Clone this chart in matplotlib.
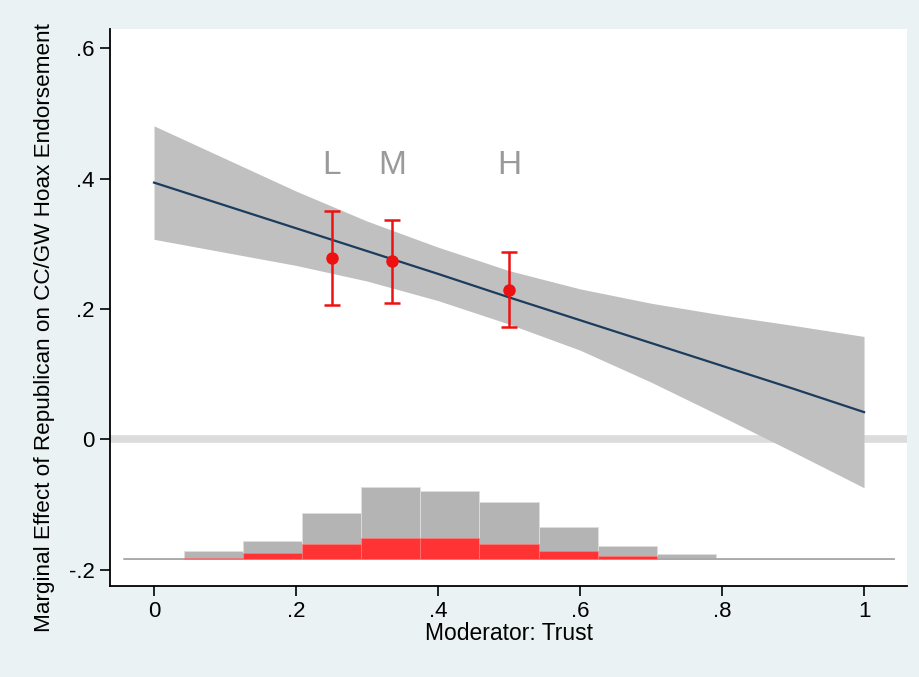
import matplotlib.pyplot as plt
import numpy as np

plt.rcParams['font.family'] = ['Liberation Sans', 'DejaVu Sans']

# marginal effect line and CI band
x_band = [0, .1, .2, .3, .4, .5, .6, .7, .8, .9, 1]
me_line = [.394, .359, .324, .289, .254, .218, .183, .148, .113, .078, .042]
ci_upper = [.481, .431, .381, .335, .295, .259, .231, .209, .191, .175, .158]
ci_lower = [.307, .287, .267, .243, .213, .177, .137, .088, .035, -.019, -.074]

# L / M / H point estimates
pt_labels = ['L', 'M', 'H']
pt_x = [.25, .335, .50]
pt_y = [.278, .273, .229]
pt_lo = [.206, .210, .172]
pt_hi = [.351, .337, .287]

# histogram of moderator (heights in y-units above the baseline)
hist_centers = [k / 12 for k in range(13)]
hist_all = [.002, .0113, .0275, .0705, .110, .104, .0866, .0484, .0194, .0072, .0018, .0012, .0018]
hist_rep = [0, .0015, .0087, .0224, .032, .032, .0224, .0113, .004, 0, 0, 0, 0]
hist_base = -.183

fig = plt.figure(figsize=(9.19, 6.77), dpi=100, facecolor='#eaf2f3')
ax = fig.add_axes([0.1197, 0.1344, 0.8673, 0.8228])
ax.set_facecolor('white')

# zero reference line
ax.axhline(0, color='#dcdcdc', lw=5.5, zorder=1)

# histogram
w = 1 / 12
ax.bar(hist_centers, hist_all, width=w, bottom=hist_base, color='#b4b4b4',
       edgecolor='#dedede', linewidth=0.6, zorder=2)
ax.bar(hist_centers, hist_rep, width=w, bottom=hist_base, color='#ff3333',
       edgecolor='#ff8080', linewidth=0.4, zorder=3)
ax.plot([-w / 2, 1 + w / 2], [hist_base, hist_base], color='#a8a8a8', lw=1.2, zorder=2)

# CI band and line
ax.fill_between(x_band, ci_lower, ci_upper, color='#c0c0c0', lw=0, zorder=4)
ax.plot(x_band, me_line, color='#1c3c5e', lw=1.6, zorder=5)

# point estimates with error bars
yerr = [np.array(pt_y) - np.array(pt_lo), np.array(pt_hi) - np.array(pt_y)]
ax.errorbar(pt_x, pt_y, yerr=yerr, fmt='o', color='#ee1111', ms=8, lw=1.8,
            capsize=5.5, capthick=1.8, zorder=6)
for lab, xx in zip(pt_labels, pt_x):
    ax.text(xx, .42, lab, color='#9a9a9a', fontsize=24, ha='center', va='center', zorder=7)

ax.set_xlim(-.062, 1.0606)
ax.set_ylim(-.2247, .6296)
ax.set_xticks([0, .2, .4, .6, .8, 1])
ax.set_xticklabels(['0', '.2', '.4', '.6', '.8', '1'])
ax.set_yticks([-.2, 0, .2, .4, .6])
ax.set_yticklabels(['-.2', '0', '.2', '.4', '.6'])
ax.tick_params(axis='both', length=7, width=1.2, labelsize=16, colors='black', pad=4)
for s in ['top', 'right']:
    ax.spines[s].set_visible(False)
for s in ['left', 'bottom']:
    ax.spines[s].set_linewidth(1.3)

ax.set_xlabel('Moderator: Trust', fontsize=16.5, labelpad=0)
ax.set_ylabel('Marginal Effect of Republican on CC/GW Hoax Endorsement', fontsize=16.2,
              va='center')
ax.yaxis.set_label_coords(-0.082, 0.464)

fig.savefig('out.png', dpi=100, facecolor=fig.get_facecolor())
